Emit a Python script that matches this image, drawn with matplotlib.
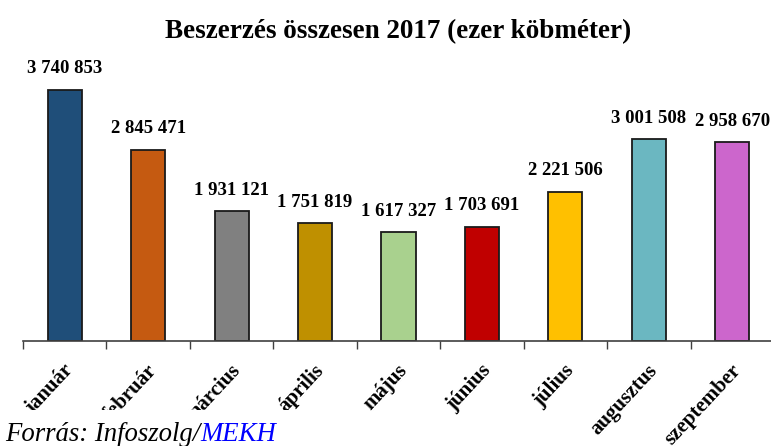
import numpy as np
import matplotlib
matplotlib.use('Agg')
import matplotlib.pyplot as plt
from matplotlib.patches import Rectangle
import matplotlib.transforms as mtransforms

# Beszerzés összesen 2017 (ezer köbméter)
months = ['január', 'február', 'március', 'április', 'május',
          'június', 'július', 'augusztus', 'szeptember']
values = [3740853, 2845471, 1931121, 1751819, 1617327,
          1703691, 2221506, 3001508, 2958670]
colors = ['#1F4E79', '#C55A11', '#808080', '#BF9000', '#A9D18E',
          '#C00000', '#FFC000', '#6BB7C1', '#CC66CC']

plt.rcParams['font.family'] = 'Liberation Serif'
plt.rcParams['font.weight'] = 'bold'

fig = plt.figure(figsize=(7.71, 4.46), dpi=100)
ax = fig.add_axes([23 / 771, 105 / 446, 751 / 771, 282 / 446])

x = np.arange(len(months))
ax.bar(x, values, width=0.41, color=colors, edgecolor='#1a1a1a', linewidth=1.3)

def fmt(v):
    return '{:,}'.format(v).replace(',', ' ')

for xi, v in zip(x, values):
    ax.annotate(fmt(v), (xi, v), xytext=(0, 9), textcoords='offset points',
                ha='center', va='bottom', fontsize=13.5, fontweight='bold')

ax.set_xlim(-0.5, 8.5)
ax.set_ylim(0, 4200000)

# tick marks at category borders, labels at centres
ax.set_xticks(np.arange(-0.5, 8.0, 1.0), minor=True)
ax.tick_params(axis='x', which='minor', length=6, width=1, color='#404040', direction='out')
ax.set_xticks(x)
ax.set_xticklabels(months, rotation=47, ha='right', va='center',
                   rotation_mode='anchor', fontsize=15, fontweight='bold')
ax.tick_params(axis='x', which='major', length=0, pad=19)
offset = mtransforms.ScaledTranslation(4 / 72, 0, fig.dpi_scale_trans)
for lbl in ax.get_xticklabels():
    lbl.set_transform(lbl.get_transform() + offset)

ax.set_yticks([])
for side in ['left', 'right', 'top']:
    ax.spines[side].set_visible(False)
ax.spines['bottom'].set_color('#404040')
ax.spines['bottom'].set_linewidth(1.2)

ax.set_title('Beszerzés összesen 2017 (ezer köbméter)', fontsize=19.5,
             fontweight='bold', pad=15)

# source note on a white box
fig.patches.append(Rectangle((0, 0), 300 / 771, 36 / 446, transform=fig.transFigure,
                             facecolor='white', edgecolor='none', zorder=5))
t = fig.text(5 / 771, 5 / 446, 'Forrás: Infoszolg/', fontsize=19.3, style='italic',
             fontweight='normal', va='baseline', zorder=6)
fig.canvas.draw()
bb = t.get_window_extent()
fig.text(bb.x1 / 771, 5 / 446, 'MEKH', fontsize=19.3, style='italic',
         fontweight='normal', color='#0000FF', va='baseline', zorder=6)

fig.savefig('out.png', dpi=100)
